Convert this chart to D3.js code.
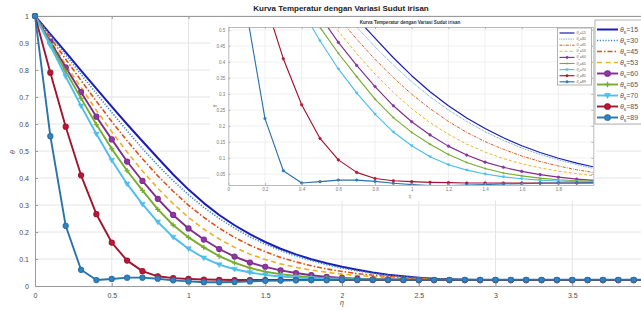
<!DOCTYPE html>
<html>
<head>
<meta charset="utf-8">
<script src="https://cdn.jsdelivr.net/npm/d3@7"></script>
<style>
  body { margin: 0; background: #fff; }
  svg { display: block; font-family: Arial, "Liberation Sans", sans-serif; }
</style>
</head>
<body>
<svg id="chart" width="641" height="310"></svg>
<script>
// eta grid (x values of every computed point)
var eta = [0, 0.1, 0.2, 0.3, 0.4, 0.5, 0.6, 0.7, 0.8, 0.9, 1, 1.1, 1.2, 1.3, 1.4, 1.5, 1.6, 1.7, 1.8, 1.9, 2,
  2.1, 2.2, 2.3, 2.4, 2.5, 2.6, 2.7, 2.8, 2.9, 3, 3.1, 3.2, 3.3, 3.4, 3.5, 3.6, 3.7, 3.8, 3.9, 4];

// temperature for every sudut irisan
var theta15 = [1, 0.933, 0.866, 0.798, 0.731, 0.664, 0.599, 0.536, 0.474, 0.413, 0.357, 0.307, 0.263, 0.225, 0.192, 0.163, 0.138, 0.117, 0.099, 0.084, 0.071,
  0.060, 0.050, 0.042, 0.036, 0.031, 0.027, 0.025, 0.023, 0.022, 0.022, 0.022, 0.022, 0.022, 0.022, 0.022, 0.022, 0.022, 0.022, 0.022, 0.022];
var theta30 = [1, 0.928, 0.856, 0.784, 0.713, 0.643, 0.575, 0.509, 0.447, 0.390, 0.338, 0.291, 0.250, 0.214, 0.182, 0.155, 0.131, 0.111, 0.094, 0.079, 0.066,
  0.056, 0.047, 0.040, 0.035, 0.030, 0.027, 0.025, 0.023, 0.022, 0.022, 0.022, 0.022, 0.022, 0.022, 0.022, 0.022, 0.022, 0.022, 0.022, 0.022];
var theta45 = [1, 0.920, 0.840, 0.761, 0.684, 0.609, 0.538, 0.471, 0.408, 0.351, 0.299, 0.254, 0.214, 0.180, 0.151, 0.127, 0.106, 0.089, 0.075, 0.063, 0.054,
  0.046, 0.040, 0.035, 0.031, 0.028, 0.026, 0.024, 0.023, 0.022, 0.022, 0.022, 0.022, 0.022, 0.022, 0.022, 0.022, 0.022, 0.022, 0.022, 0.022];
var theta53 = [1, 0.910, 0.820, 0.735, 0.651, 0.571, 0.496, 0.426, 0.362, 0.305, 0.254, 0.210, 0.174, 0.143, 0.118, 0.098, 0.082, 0.069, 0.059, 0.051, 0.044,
  0.039, 0.035, 0.031, 0.028, 0.026, 0.024, 0.023, 0.022, 0.022, 0.022, 0.022, 0.022, 0.022, 0.022, 0.022, 0.022, 0.022, 0.022, 0.022, 0.022];
var theta60 = [1, 0.905, 0.810, 0.718, 0.627, 0.543, 0.461, 0.389, 0.323, 0.263, 0.213, 0.172, 0.137, 0.109, 0.087, 0.071, 0.058, 0.048, 0.040, 0.034, 0.030,
  0.027, 0.025, 0.024, 0.023, 0.022, 0.022, 0.022, 0.022, 0.022, 0.022, 0.022, 0.022, 0.022, 0.022, 0.022, 0.022, 0.022, 0.022, 0.022, 0.022];
var theta65 = [1, 0.897, 0.795, 0.695, 0.598, 0.508, 0.427, 0.354, 0.284, 0.226, 0.180, 0.143, 0.111, 0.086, 0.067, 0.053, 0.044, 0.037, 0.032, 0.029, 0.027,
  0.025, 0.024, 0.023, 0.022, 0.022, 0.022, 0.022, 0.022, 0.022, 0.022, 0.022, 0.022, 0.022, 0.022, 0.022, 0.022, 0.022, 0.022, 0.022, 0.022];
var theta70 = [1, 0.890, 0.776, 0.667, 0.563, 0.466, 0.378, 0.303, 0.237, 0.181, 0.138, 0.104, 0.079, 0.062, 0.050, 0.041, 0.035, 0.031, 0.028, 0.026, 0.025,
  0.024, 0.023, 0.022, 0.022, 0.022, 0.022, 0.022, 0.022, 0.022, 0.022, 0.022, 0.022, 0.022, 0.022, 0.022, 0.022, 0.022, 0.022, 0.022, 0.022];
var theta85 = [1, 0.790, 0.590, 0.410, 0.266, 0.161, 0.094, 0.055, 0.036, 0.029, 0.026, 0.024, 0.023, 0.022, 0.022, 0.022, 0.022, 0.022, 0.022, 0.022, 0.022,
  0.022, 0.022, 0.022, 0.022, 0.022, 0.022, 0.022, 0.022, 0.022, 0.022, 0.022, 0.022, 0.022, 0.022, 0.022, 0.022, 0.022, 0.022, 0.022, 0.022];
var theta89 = [1, 0.555, 0.223, 0.060, 0.022, 0.026, 0.031, 0.031, 0.027, 0.021, 0.017, 0.014, 0.014, 0.015, 0.017, 0.019, 0.020, 0.021, 0.022, 0.022, 0.023,
  0.023, 0.023, 0.023, 0.023, 0.023, 0.023, 0.023, 0.023, 0.023, 0.023, 0.023, 0.023, 0.023, 0.023, 0.023, 0.023, 0.023, 0.023, 0.023, 0.023];

var sudut = ["15", "30", "45", "53", "60", "65", "70", "85", "89"];
var allSeries = [theta15, theta30, theta45, theta53, theta60, theta65, theta70, theta85, theta89];

// tick labels (4 is past the right edge of the picture)
var mainXTicks = [0, 0.5, 1, 1.5, 2, 2.5, 3, 3.5];
var mainYTicks = [0, 0.1, 0.2, 0.3, 0.4, 0.5, 0.6, 0.7, 0.8, 0.9, 1];
var insetXTicks = [0, 0.2, 0.4, 0.6, 0.8, 1, 1.2, 1.4, 1.6, 1.8];
var insetYTicks = [0.05, 0.1, 0.15, 0.2, 0.25, 0.3, 0.35, 0.4, 0.45, 0.5];

var titleText = "Kurva Temperatur dengan Variasi Sudut irisan";

// looks of every line (matlab-ish colours)
var styles = [
  { color: "#1c1cb4", width: 2, dash: null, marker: null },
  { color: "#3a86c8", width: 1.6, dash: "1.2,1.6", marker: null },
  { color: "#d95319", width: 1.6, dash: "5,2,1.5,2", marker: null },
  { color: "#edb120", width: 1.6, dash: "5,3.5", marker: null },
  { color: "#7e2f8e", width: 1.9, dash: null, marker: "circle" },
  { color: "#77ac30", width: 1.9, dash: null, marker: "plus" },
  { color: "#4dbeee", width: 1.9, dash: null, marker: "triangle" },
  { color: "#a2142f", width: 1.9, dash: null, marker: "circle" },
  { color: "#2a72a8", width: 1.9, dash: null, marker: "circle" }
];

var svg = d3.select("#chart");
var gridColor = "#e4e4e4";
var axisColor = "#9a9a9a";
var labelColor = "#4a4a4a";

// draw one marker of given type at (cx, cy)
function drawMarker(g, type, cx, cy, size, color) {
  if (type == "circle") {
    g.append("circle").attr("cx", cx).attr("cy", cy).attr("r", size)
      .attr("fill", d3.color(color).brighter(0.4)).attr("stroke", color).attr("stroke-width", size * 0.4);
  } else if (type == "plus") {
    g.append("path").attr("d", `M${cx - size},${cy}H${cx + size}M${cx},${cy - size}V${cy + size}`)
      .attr("stroke", color).attr("stroke-width", size * 0.5).attr("fill", "none");
  } else if (type == "triangle") {
    var s = size * 1.1;
    g.append("path").attr("d", `M${cx - s},${cy - s * 0.7}L${cx + s},${cy - s * 0.7}L${cx},${cy + s}Z`)
      .attr("fill", color).attr("stroke", color).attr("stroke-width", 0.5);
  }
}

// draws all the curves into a group with the given scales
function drawCurves(g, xs, ys, lineScale, markerSize) {
  var line = d3.line()
    .x((d, i) => xs(eta[i]))
    .y(d => ys(d));
  allSeries.forEach(function (data, k) {
    var st = styles[k];
    g.append("path")
      .datum(data)
      .attr("fill", "none")
      .attr("stroke", st.color)
      .attr("stroke-width", st.width * lineScale)
      .attr("stroke-dasharray", st.dash ? st.dash.split(",").map(v => v * Math.max(lineScale, 0.6)).join(",") : null)
      .attr("stroke-linejoin", "round")
      .attr("d", line);
    if (st.marker) {
      var mg = g.append("g");
      data.forEach(function (d, i) {
        drawMarker(mg, st.marker, xs(eta[i]), ys(d), markerSize, st.color);
      });
    }
  });
}

// ---------------- main chart ----------------
var x = d3.scaleLinear().domain([0, 4]).range([35, 649]);
var y = d3.scaleLinear().domain([0, 1]).range([286, 16]);

var grid = svg.append("g");
grid.selectAll(".gx").data(mainXTicks.slice(1)).enter().append("line")
  .attr("x1", d => x(d)).attr("x2", d => x(d)).attr("y1", y(0)).attr("y2", y(1))
  .attr("stroke", gridColor).attr("stroke-width", 1);
grid.selectAll(".gy").data(mainYTicks.slice(1)).enter().append("line")
  .attr("x1", x(0)).attr("x2", x(4)).attr("y1", d => y(d)).attr("y2", d => y(d))
  .attr("stroke", gridColor).attr("stroke-width", 1);

var mainXAxis = svg.append("g")
  .attr("transform", `translate(0, ${y(0)})`)
  .call(d3.axisBottom(x).tickValues(mainXTicks).tickSizeInner(-3).tickSizeOuter(0).tickPadding(7).tickFormat(d3.format("")));
var mainXTop = svg.append("g")
  .attr("transform", `translate(0, ${y(1)})`)
  .call(d3.axisTop(x).tickValues(mainXTicks).tickSizeInner(-3).tickSizeOuter(0).tickFormat(""));
var mainYAxis = svg.append("g")
  .attr("transform", `translate(${x(0)}, 0)`)
  .call(d3.axisLeft(y).tickValues(mainYTicks).tickSizeInner(-3).tickSizeOuter(0).tickPadding(6).tickFormat(d3.format("")));

[mainXAxis, mainXTop, mainYAxis].forEach(function (a) {
  a.selectAll("path").attr("stroke", axisColor);
  a.selectAll("line").attr("stroke", axisColor);
  a.selectAll("text").attr("fill", labelColor).style("font-size", "7px").style("font-family", "Arial, 'Liberation Sans', sans-serif");
});

drawCurves(svg.append("g"), x, y, 1, 2.6);

// axis labels
svg.append("text")
  .attr("x", 342).attr("y", 305)
  .attr("text-anchor", "middle").attr("fill", labelColor)
  .style("font-size", "7px").style("font-style", "italic")
  .text("η");
svg.append("text")
  .attr("transform", "translate(15, 152) rotate(-90)")
  .attr("text-anchor", "middle").attr("fill", labelColor)
  .style("font-size", "7px").style("font-style", "italic")
  .text("θ");

// title
svg.append("text")
  .attr("x", 341).attr("y", 11)
  .attr("text-anchor", "middle").attr("fill", "#222")
  .style("font-size", "8px").style("font-weight", "bold")
  .text(titleText);

// ---------------- inset (zoom of the same data) ----------------
svg.append("rect")
  .attr("x", 210).attr("y", 17).attr("width", 386).attr("height", 184)
  .attr("fill", "#fff");

var xi = d3.scaleLinear().domain([0, 1.99]).range([228.3, 593.3]);
var yi = d3.scaleLinear().domain([0.0156, 0.509]).range([185, 27]);

var inset = svg.append("g");
inset.selectAll(".igx").data(insetXTicks.slice(1)).enter().append("line")
  .attr("x1", d => xi(d)).attr("x2", d => xi(d)).attr("y1", yi.range()[0]).attr("y2", yi.range()[1])
  .attr("stroke", "#ececec").attr("stroke-width", 0.8);
inset.selectAll(".igy").data(insetYTicks).enter().append("line")
  .attr("x1", xi.range()[0]).attr("x2", xi.range()[1]).attr("y1", d => yi(d)).attr("y2", d => yi(d))
  .attr("stroke", "#ececec").attr("stroke-width", 0.8);

svg.append("clipPath").attr("id", "insetClip")
  .append("rect").attr("x", 228.3).attr("y", 27).attr("width", 365).attr("height", 158);
drawCurves(inset.append("g").attr("clip-path", "url(#insetClip)"), xi, yi, 0.6, 1.3);

var insetAxes = [
  inset.append("g").attr("transform", `translate(0, 185)`)
    .call(d3.axisBottom(xi).tickValues(insetXTicks).tickSizeInner(-2).tickSizeOuter(0).tickPadding(3).tickFormat(d3.format(""))),
  inset.append("g").attr("transform", `translate(0, 27)`)
    .call(d3.axisTop(xi).tickValues(insetXTicks).tickSizeInner(-2).tickSizeOuter(0).tickFormat("")),
  inset.append("g").attr("transform", `translate(228.3, 0)`)
    .call(d3.axisLeft(yi).tickValues(insetYTicks).tickSizeInner(-2).tickSizeOuter(0).tickPadding(3).tickFormat(d3.format(""))),
  inset.append("g").attr("transform", `translate(593.3, 0)`)
    .call(d3.axisRight(yi).tickValues(insetYTicks).tickSizeInner(-2).tickSizeOuter(0).tickFormat(""))
];
insetAxes.forEach(function (a) {
  a.selectAll("path").attr("stroke", "#a8a8a8").attr("stroke-width", 0.8);
  a.selectAll("line").attr("stroke", "#a8a8a8").attr("stroke-width", 0.8);
  a.selectAll("text").attr("fill", "#777").style("font-size", "4.5px").style("font-family", "Arial, 'Liberation Sans', sans-serif");
});

inset.append("text")
  .attr("x", 410).attr("y", 23.5)
  .attr("text-anchor", "middle").attr("fill", "#333")
  .style("font-size", "4.6px").style("font-weight", "bold")
  .text(titleText);
inset.append("text")
  .attr("x", 410).attr("y", 198)
  .attr("text-anchor", "middle").attr("fill", "#777")
  .style("font-size", "4.5px").style("font-style", "italic")
  .text("η");
inset.append("text")
  .attr("transform", "translate(217, 106) rotate(-90)")
  .attr("text-anchor", "middle").attr("fill", "#777")
  .style("font-size", "4.5px").style("font-style", "italic")
  .text("θ");

// ---------------- legends ----------------
function drawLegend(left, top, w, h, rowTop, rowGap, lineLen, fontSize, lineScale, markerSize) {
  var lg = svg.append("g");
  lg.append("rect").attr("x", left).attr("y", top).attr("width", w).attr("height", h)
    .attr("fill", "#fff").attr("stroke", "#a0a0a0").attr("stroke-width", 0.8);
  sudut.forEach(function (s, k) {
    var st = styles[k];
    var ry = rowTop + k * rowGap;
    var x1 = left + 2, x2 = left + 2 + lineLen;
    lg.append("line").attr("x1", x1).attr("x2", x2).attr("y1", ry).attr("y2", ry)
      .attr("stroke", st.color).attr("stroke-width", st.width * lineScale)
      .attr("stroke-dasharray", st.dash ? st.dash.split(",").map(v => v * Math.max(lineScale, 0.6)).join(",") : null);
    if (st.marker) drawMarker(lg, st.marker, (x1 + x2) / 2, ry, markerSize, st.color);
    var t = lg.append("text").attr("x", x2 + 2).attr("y", ry + fontSize * 0.3)
      .attr("fill", "#555").style("font-size", fontSize + "px");
    t.append("tspan").style("font-style", "italic").text("θ");
    t.append("tspan").attr("dy", fontSize * 0.35).style("font-size", (fontSize * 0.7) + "px").text("s");
    t.append("tspan").attr("dy", -fontSize * 0.35).text("=" + s);
  });
}

drawLegend(595, 20, 60, 104, 29.5, 11, 21, 7, 1, 2.8);
drawLegend(557.5, 28, 34, 57, 33, 6.1, 15, 3.6, 0.6, 1.2);
</script>
</body>
</html>
